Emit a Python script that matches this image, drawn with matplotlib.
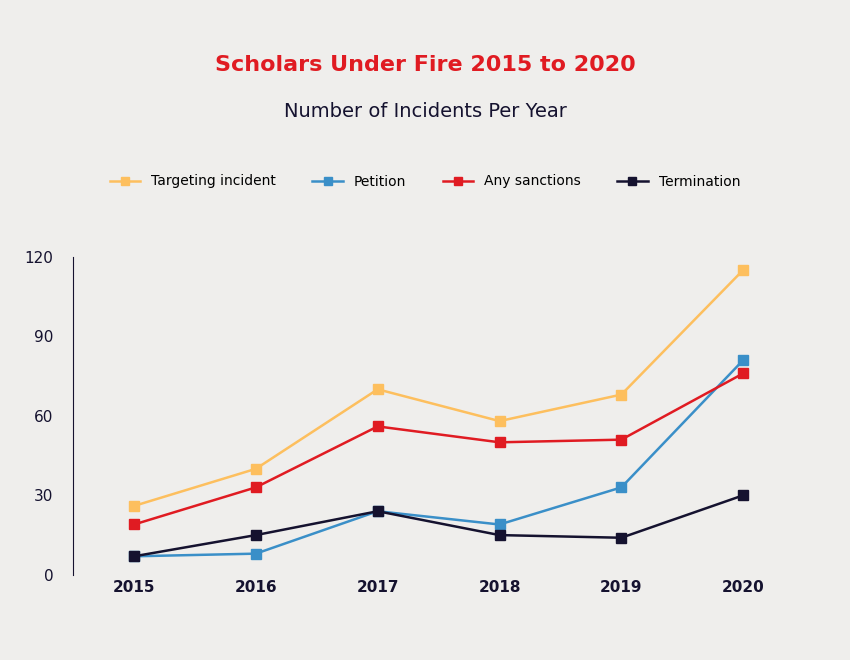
import matplotlib.pyplot as plt

years = ["2015", "2016", "2017", "2018", "2019", "2020"]
targeting = [26, 40, 70, 58, 68, 115]
petition = [7, 8, 24, 19, 33, 81]
sanctions = [19, 33, 56, 50, 51, 76]
termination = [7, 15, 24, 15, 14, 30]

series = [
    ("Targeting incident", targeting, "#fdbf5e"),
    ("Petition", petition, "#3a8fc8"),
    ("Any sanctions", sanctions, "#e01b22"),
    ("Termination", termination, "#15122f"),
]

bg = "#efeeec"
fig = plt.figure(figsize=(8.5, 6.6), dpi=100, facecolor=bg)
ax = fig.add_axes([0.086, 0.129, 0.86, 0.482], facecolor=bg)

x = range(len(years))
for name, vals, col in series:
    ax.plot(x, vals, color=col, lw=1.8, marker="s", ms=7, label=name)

ax.set_xlim(-0.5, 5.5)
ax.set_ylim(0, 120)
ax.set_yticks([0, 30, 60, 90, 120])
ax.set_xticks(list(x))
ax.set_xticklabels(years, fontweight="bold")
ax.tick_params(length=0, labelsize=11, colors="#15122f")
ax.tick_params(axis="y", pad=14)
for s in ["top", "right", "bottom"]:
    ax.spines[s].set_visible(False)
ax.spines["left"].set_color("#15122f")

fig.text(0.5, 0.892, "Scholars Under Fire 2015 to 2020", ha="center",
         color="#e01b22", fontsize=16, fontweight="bold")
fig.text(0.5, 0.822, "Number of Incidents Per Year", ha="center",
         color="#15122f", fontsize=14)
fig.legend(loc="center", bbox_to_anchor=(0.5, 0.725), ncol=4, frameon=False,
           fontsize=10, handlelength=2.2, columnspacing=2.6, handletextpad=0.8,
           markerscale=0.9)

fig.savefig("out.png", facecolor=bg)
